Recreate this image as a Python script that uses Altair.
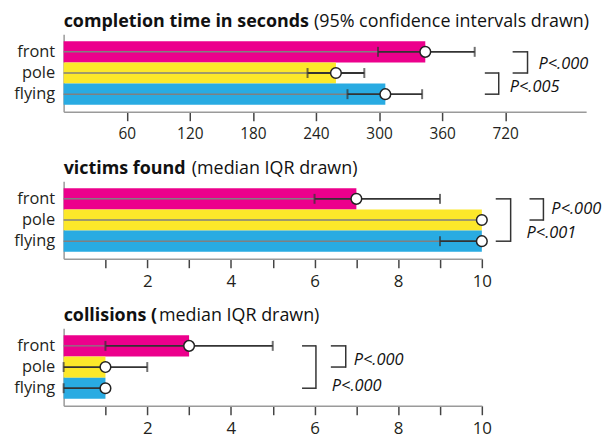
import altair as alt
import pandas as pd

# ---------------- data ----------------
groups = ["front", "pole", "flying"]
colors_time = ["#EC008C", "#FCE82A", "#29ABE2"]
colors_count = ["#E3237F", "#FCE82A", "#29ABE2"]

time_mean = [344, 259, 306]
time_ci_low = [299, 232, 270]
time_ci_high = [391, 286, 341]
time_tick_values = [60, 120, 180, 240, 300, 360, 420]
time_tick_labels = ["60", "120", "180", "240", "300", "360", "720"]

victims_median = [7, 10, 10]
victims_q1 = [6, 10, 9]
victims_q3 = [9, 10, 10]

collisions_median = [3, 1, 1]
collisions_q1 = [1, 0, 0]
collisions_q3 = [5, 2, 1]

count_tick_values = [1, 2, 3, 4, 5, 6, 7, 8, 9, 10]

titles_bold = ["completion time in seconds", "victims found", "collisions ("]
titles_rest = ["(95% confidence intervals drawn)", "(median IQR drawn)", "median IQR drawn)"]

time_brackets = [("front", "pole"), ("pole", "flying")]
time_pvals = ["P<.000", "P<.005"]
victims_brackets = [("front", "pole"), ("front", "flying")]
victims_pvals = ["P<.000", "P<.001"]
collisions_brackets = [("front", "pole"), ("front", "flying")]
collisions_pvals = ["P<.000", "P<.000"]

FONT = "Open Sans"
INK = "#231F20"
H = 78
PAD_OUTER = 0.33
TITLE_SIZE = 18


def band_center(g):
    step = H / (len(groups) + 2 * PAD_OUTER)
    return step * (PAD_OUTER + groups.index(g) + 0.5)


def panel(values, low, high, colors, domain, tick_values, label_expr, width,
          tick_label_size, title_bold, title_rest, rest_x,
          brackets, bracket_px, pvals, pval_px):
    df = pd.DataFrame({"group": groups, "value": values, "low": low, "high": high})
    df["zero"] = 0
    yscale = alt.Scale(domain=groups, paddingInner=0, paddingOuter=PAD_OUTER)
    yaxis = alt.Axis(title=None, ticks=False, labelFontSize=16.5, labelFont=FONT,
                     labelColor=INK, labelPadding=9, domainColor="#9a9a9a",
                     domainWidth=1.5, labelAngle=0)
    y = alt.Y("group:N", sort=groups, scale=yscale, axis=yaxis)
    xscale = alt.Scale(domain=domain, nice=False, zero=True)
    xaxis = alt.Axis(title=None, values=tick_values, labelExpr=label_expr, grid=False,
                     tickSize=9, tickColor="#444", tickWidth=1.5,
                     domainColor="#9a9a9a", domainWidth=1.5,
                     labelFontSize=tick_label_size, labelFont=FONT, labelColor=INK,
                     labelPadding=6, labelFlush=False)
    base = alt.Chart(df)
    bars = base.mark_bar().encode(
        x=alt.X("value:Q", scale=xscale, axis=xaxis),
        y=y,
        color=alt.Color("group:N", scale=alt.Scale(domain=groups, range=colors), legend=None),
    )
    gray = base.mark_rule(color="#808080", strokeWidth=1.5).encode(
        x=alt.X("zero:Q"), x2=alt.X2("low:Q"), y=y)
    err = base.mark_rule(color="#333333", strokeWidth=1.8).encode(
        x=alt.X("low:Q"), x2=alt.X2("high:Q"), y=y)
    cap_lo = base.mark_tick(color="#333333", size=10, thickness=2).encode(
        x="low:Q", y=y)
    cap_hi = base.mark_tick(color="#333333", size=10, thickness=2).encode(
        x="high:Q", y=y)
    dots = base.mark_point(shape="circle", filled=True, fill="white", stroke="#222222",
                           strokeWidth=1.5, size=115, opacity=1).encode(x="value:Q", y=y)
    layers = [bars, gray, err, cap_lo, cap_hi, dots]

    one = pd.DataFrame({"k": [0]})
    # titles
    layers.append(alt.Chart(one).mark_text(
        text=title_bold, align="left", baseline="alphabetic", font=FONT, fontSize=TITLE_SIZE,
        fontWeight="bold", color="#111111").encode(x=alt.value(0), y=alt.value(-7.5)))
    layers.append(alt.Chart(one).mark_text(
        text=title_rest, align="left", baseline="alphabetic", font=FONT, fontSize=TITLE_SIZE,
        color="#111111").encode(x=alt.value(rest_x), y=alt.value(-7.5)))

    # significance brackets
    for (a, b), (vx, hx) in zip(brackets, bracket_px):
        ya, yb = band_center(a), band_center(b)
        rc = alt.Chart(one).mark_rule(color="#333333", strokeWidth=1.5)
        layers.append(rc.encode(x=alt.value(vx), y=alt.value(ya - 0.75), y2=alt.value(yb + 0.75)))
        layers.append(rc.encode(x=alt.value(hx), x2=alt.value(vx), y=alt.value(ya)))
        layers.append(rc.encode(x=alt.value(hx), x2=alt.value(vx), y=alt.value(yb)))
    for p, (px, py) in zip(pvals, pval_px):
        layers.append(alt.Chart(one).mark_text(
            text=p, align="left", baseline="middle", font=FONT, fontSize=16.5, fontStyle="italic",
            color="#111111").encode(x=alt.value(px), y=alt.value(py)))

    return alt.layer(*layers).properties(width=width, height=H)


time_label_expr = " : ".join(f"datum.value == {v} ? '{l}'" for v, l in zip(time_tick_values, time_tick_labels)) + " : ''"
count_label_expr = "datum.value % 2 == 0 ? datum.label : ''"

p1 = panel(time_mean, time_ci_low, time_ci_high, colors_time, [0, 497], time_tick_values,
           time_label_expr, 526, 15.5, titles_bold[0], titles_rest[0], 252,
           time_brackets, [(467, 452), (438, 424)], time_pvals, [(478, 30), (449, 53)])
p2 = panel(victims_median, victims_q1, victims_q3, colors_count, [0, 10], count_tick_values,
           count_label_expr, 421, 17, titles_bold[1], titles_rest[1], 129,
           victims_brackets, [(483, 469), (450, 435)], victims_pvals, [(491, 28), (466, 52)])
p3 = panel(collisions_median, collisions_q1, collisions_q3, colors_count, [0, 10], count_tick_values,
           count_label_expr, 421, 17, titles_bold[2], titles_rest[2], 96,
           collisions_brackets, [(284, 269), (254, 240)], collisions_pvals, [(292, 32), (270, 58)])

chart = alt.vconcat(p1, p2, p3, spacing=17).configure_view(stroke=None).properties(
    padding={"top": 3, "left": 5, "right": 5, "bottom": 2})

chart.save("out.html", embed_options={"renderer": "svg", "actions": False})
